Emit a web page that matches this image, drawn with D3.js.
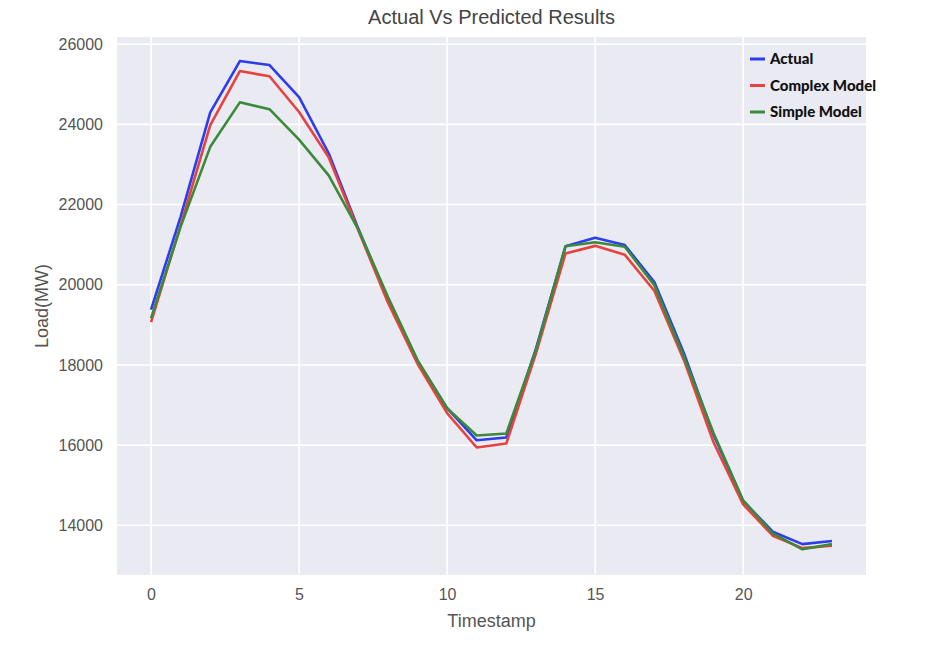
<!DOCTYPE html>
<html>
<head>
<meta charset="utf-8">
<script src="https://cdn.jsdelivr.net/npm/d3@7"></script>
<style>
  html, body { margin: 0; padding: 0; background: #ffffff; }
  svg { display: block; }
</style>
</head>
<body>
<svg id="chart" width="934" height="650"></svg>
<script>
const timestamps = d3.range(0, 24);
const actual  = [19380, 21700, 24300, 25580, 25480, 24680, 23280, 21400, 19650, 18100, 16920, 16120, 16190, 18400, 20960, 21170, 20990, 20070, 18290, 16250, 14610, 13840, 13530, 13610];
const complexModel = [19070, 21480, 23980, 25330, 25200, 24310, 23180, 21360, 19560, 18030, 16800, 15940, 16040, 18280, 20780, 20970, 20750, 19850, 18120, 16070, 14520, 13740, 13430, 13490];
const simpleModel  = [19170, 21450, 23440, 24550, 24380, 23620, 22730, 21380, 19700, 18120, 16920, 16240, 16290, 18370, 20960, 21060, 20950, 19990, 18200, 16300, 14620, 13800, 13400, 13530];
const seriesNames = ["Actual", "Complex Model", "Simple Model"];
const xTicks = [0, 5, 10, 15, 20];
const yTicks = [14000, 16000, 18000, 20000, 22000, 24000, 26000];
const titleText = "Actual Vs Predicted Results";
const xLabel = "Timestamp";
const yLabel = "Load(MW)";

const colors = ["#2d3cf0", "#e8423f", "#3a8a3a"];
const seriesData = [actual, complexModel, simpleModel];

const svg = d3.select("#chart");
const plot = { left: 117, right: 866, top: 37, bottom: 575 };

const x = d3.scaleLinear().domain([-1.15, 24.15]).range([plot.left, plot.right]);
const y = d3.scaleLinear().domain([12760, 26180]).range([plot.bottom, plot.top]);

// background
svg.append("rect")
  .attr("x", plot.left).attr("y", plot.top)
  .attr("width", plot.right - plot.left).attr("height", plot.bottom - plot.top)
  .attr("fill", "#eaeaf2");

// gridlines
svg.append("g").selectAll("line").data(xTicks).join("line")
  .attr("x1", d => x(d)).attr("x2", d => x(d))
  .attr("y1", plot.top).attr("y2", plot.bottom)
  .attr("stroke", "#ffffff").attr("stroke-width", 1.6);
svg.append("g").selectAll("line").data(yTicks).join("line")
  .attr("x1", plot.left).attr("x2", plot.right)
  .attr("y1", d => y(d)).attr("y2", d => y(d))
  .attr("stroke", "#ffffff").attr("stroke-width", 1.6);

// axes (labels only)
const xAxis = svg.append("g")
  .attr("transform", `translate(0,${plot.bottom})`)
  .call(d3.axisBottom(x).tickValues(xTicks).tickSize(0).tickPadding(14).tickFormat(d3.format("d")));
const yAxis = svg.append("g")
  .attr("transform", `translate(${plot.left},0)`)
  .call(d3.axisLeft(y).tickValues(yTicks).tickSize(0).tickPadding(14).tickFormat(d3.format("d")));
[xAxis, yAxis].forEach(a => {
  a.select(".domain").remove();
  a.selectAll("text")
    .attr("font-family", "'Liberation Sans', Arial, sans-serif")
    .attr("font-size", 16)
    .attr("fill", "#555555");
});

// lines
const line = d3.line().x((d, i) => x(timestamps[i])).y(d => y(d));
seriesData.forEach((s, k) => {
  svg.append("path")
    .datum(s)
    .attr("d", line)
    .attr("fill", "none")
    .attr("stroke", colors[k])
    .attr("stroke-width", 2.6)
    .attr("stroke-linejoin", "round");
});

// title & axis labels
svg.append("text")
  .attr("x", (plot.left + plot.right) / 2).attr("y", 24)
  .attr("text-anchor", "middle")
  .attr("font-family", "'Liberation Sans', Arial, sans-serif")
  .attr("font-size", 20)
  .attr("fill", "#444444")
  .text(titleText);
svg.append("text")
  .attr("x", (plot.left + plot.right) / 2).attr("y", 627)
  .attr("text-anchor", "middle")
  .attr("font-family", "'Liberation Sans', Arial, sans-serif")
  .attr("font-size", 18)
  .attr("fill", "#555555")
  .text(xLabel);
svg.append("text")
  .attr("transform", `translate(48,${(plot.top + plot.bottom) / 2}) rotate(-90)`)
  .attr("text-anchor", "middle")
  .attr("font-family", "'Liberation Sans', Arial, sans-serif")
  .attr("font-size", 18)
  .attr("fill", "#555555")
  .text(yLabel);

// legend
const legend = svg.append("g").attr("transform", "translate(750,59)");
seriesNames.forEach((name, k) => {
  const g = legend.append("g").attr("transform", `translate(0,${k * 26.5})`);
  g.append("line").attr("x1", 0).attr("x2", 15).attr("y1", 0).attr("y2", 0)
    .attr("stroke", colors[k]).attr("stroke-width", 3);
  g.append("text").attr("x", 20).attr("y", 5)
    .attr("font-family", "Lato, sans-serif")
    .attr("font-weight", 900)
    .attr("font-size", 15)
    .attr("fill", "#111111")
    .text(name);
});
</script>
</body>
</html>
